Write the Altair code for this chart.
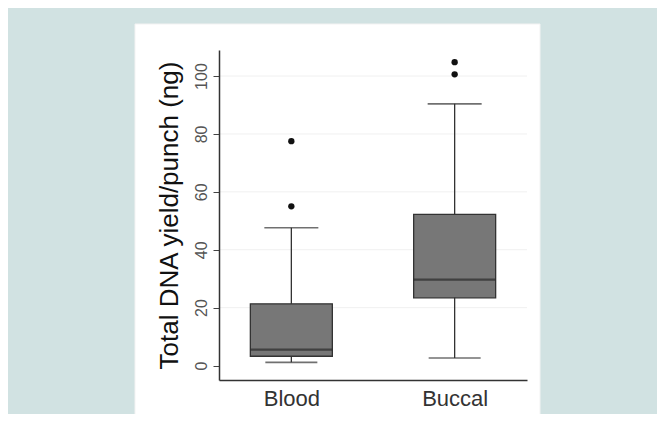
import altair as alt
import pandas as pd

# Summary values
groups = ["Blood", "Buccal"]
whisker_low = [1.1, 2.6]
q1 = [3.2, 23.4]
median = [5.5, 29.7]
q3 = [21.3, 52.2]
whisker_high = [47.6, 90.4]
outlier_group = ["Blood", "Blood", "Buccal", "Buccal"]
outlier_value = [55.0, 77.5, 100.6, 104.8]
y_ticks = [0, 20, 40, 60, 80, 100]

box = pd.DataFrame({
    "group": groups, "lo": whisker_low, "q1": q1, "med": median,
    "q3": q3, "hi": whisker_high,
})
outl = pd.DataFrame({"group": outlier_group, "value": outlier_value})
grid_df = pd.DataFrame({"t": y_ticks[1:]})

FONT = "Liberation Sans"
x_enc = alt.X(
    "group:N",
    sort=groups,
    scale=alt.Scale(type="point", padding=0.443),
    axis=alt.Axis(
        title=None, labelAngle=0, labelFontSize=22, labelColor="#333333",
        labelFont=FONT, ticks=False, labelPadding=8, domainColor="#333333",
        domainWidth=1.5, grid=False, zindex=1,
    ),
)
y_scale = alt.Scale(domain=[-5, 109], nice=False, zero=False)
y_axis = alt.Axis(
    values=y_ticks, title="Total DNA yield/punch (ng)", titleFontSize=26,
    titleFont=FONT, titleFontWeight="normal", titleColor="#111111",
    titlePadding=11, labelAngle=270, labelAlign="center",
    labelBaseline="bottom", labelFontSize=16, labelFont=FONT,
    labelColor="#555555", labelPadding=4, tickSize=6, tickColor="#444444",
    domainColor="#333333", domainWidth=1.5, grid=False, zindex=1,
)

panel = alt.Chart(pd.DataFrame({"a": [0]})).mark_rect(
    fill="white", stroke="#f3f3f3", strokeWidth=1
).encode(
    x=alt.value(-84), x2=alt.value(321), y=alt.value(-26), y2=alt.value(372)
)

grid = alt.Chart(grid_df).mark_rule(color="#f0f0f0", strokeWidth=1).encode(
    y=alt.Y("t:Q", scale=y_scale), x=alt.value(0), x2=alt.value(308)
)

base = alt.Chart(box)
whisk = base.mark_rule(color="#333333", strokeWidth=1.3).encode(
    x=x_enc,
    y=alt.Y("lo:Q", scale=y_scale, axis=y_axis),
    y2="hi:Q",
)
caps_lo = base.mark_tick(color="#333333", size=52, thickness=1.6).encode(
    x=x_enc, y=alt.Y("lo:Q", scale=y_scale)
)
caps_hi = base.mark_tick(color="#333333", size=54, thickness=1.6).encode(
    x=x_enc, y=alt.Y("hi:Q", scale=y_scale)
)
bars = base.mark_bar(size=82, fill="#777777", stroke="#333333",
                     strokeWidth=1.3).encode(
    x=x_enc, y=alt.Y("q1:Q", scale=y_scale), y2="q3:Q"
)
med = base.mark_tick(color="#2a2a2a", size=82, thickness=2.2).encode(
    x=x_enc, y=alt.Y("med:Q", scale=y_scale)
)
pts = alt.Chart(outl).mark_circle(color="#111111", size=40, opacity=1).encode(
    x=x_enc, y=alt.Y("value:Q", scale=y_scale)
)

chart = alt.layer(panel, grid, whisk, caps_lo, caps_hi, bars, med, pts).properties(
    width=308, height=330,
    autosize=alt.AutoSizeParams(type="none"),
    padding={"left": 211, "top": 42, "right": 130, "bottom": 34},
    background="#d1e2e2",
).configure_view(strokeWidth=0)

chart.save("out.html", embed_options={"renderer": "svg", "actions": False})
